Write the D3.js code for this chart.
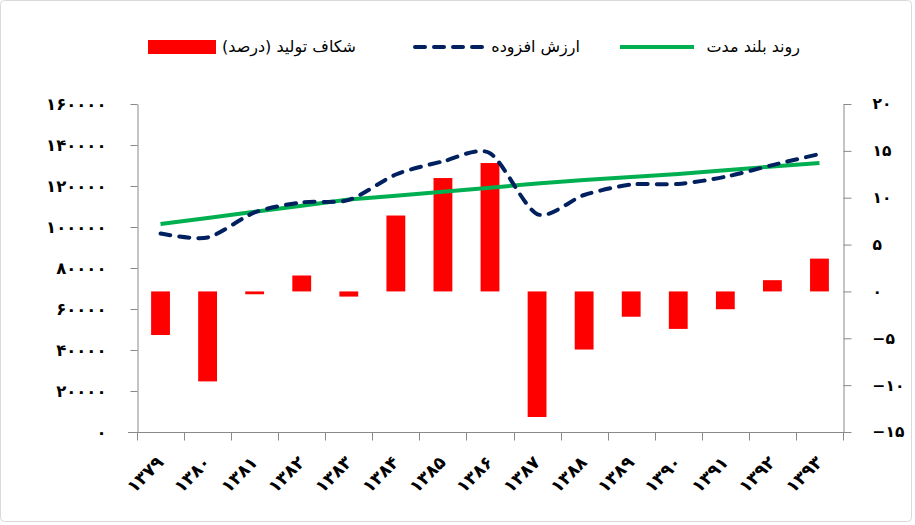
<!DOCTYPE html>
<html>
<head>
<meta charset="utf-8">
<script src="https://cdn.jsdelivr.net/npm/d3@7"></script>
<style>
  body { margin: 0; background: #fff; }
  text { font-family: "DejaVu Sans", sans-serif; fill: #000; }
  .axis path, .axis line { stroke: #898989; }
</style>
</head>
<body>
<div id="chart"></div>
<script>
// chart data
var years = ["۱۳۷۹", "۱۳۸۰", "۱۳۸۱", "۱۳۸۲", "۱۳۸۳", "۱۳۸۴", "۱۳۸۵", "۱۳۸۶",
  "۱۳۸۷", "۱۳۸۸", "۱۳۸۹", "۱۳۹۰", "۱۳۹۱", "۱۳۹۲", "۱۳۹۳"];
// output gap (percent), right axis
var outputGap = [-4.65, -9.6, -0.3, 1.7, -0.55, 8.1, 12.1, 13.7, -13.4, -6.2, -2.7, -4.0, -1.9, 1.2, 3.5];
// value added, left axis
var valueAdded = [96800, 94900, 107100, 112000, 113200, 125600, 132000, 136000,
  106300, 115600, 120700, 121000, 124500, 130200, 135600];
// long term trend, left axis
var trend = [101500, 104400, 107400, 110400, 113400, 115200, 117200, 119200,
  121200, 122900, 124400, 125800, 127700, 129500, 131200];

var leftTicks = [0, 20000, 40000, 60000, 80000, 100000, 120000, 140000, 160000];
var rightTicks = [-15, -10, -5, 0, 5, 10, 15, 20];

var legendLabels = ["شکاف تولید (درصد)", "ارزش افزوده", "روند بلند مدت"];

// chart setup
var svgWidth = 915;
var svgHeight = 525;

var plot = { left: 137, right: 843, top: 104, bottom: 432 };

var colors = { gap: "#ff0000", value: "#002060", trend: "#00b050" };

function persian(n) {
  var s = String(Math.abs(n)).replace(/[0-9]/g, function(c) {
    return "۰۱۲۳۴۵۶۷۸۹"[+c];
  });
  return n < 0 ? "−" + s : s;
}

var svg = d3.select("#chart")
  .append("svg")
  .attr("width", svgWidth)
  .attr("height", svgHeight);

// chart border
svg.append("rect")
  .attr("x", 0.5)
  .attr("y", 0.5)
  .attr("width", svgWidth - 4)
  .attr("height", svgHeight - 4)
  .attr("rx", 4)
  .attr("fill", "none")
  .attr("stroke", "#d9d9d9");

// scales
var x = d3.scaleBand()
  .domain(years)
  .range([plot.left, plot.right])
  .padding(0);

var yLeft = d3.scaleLinear()
  .domain([0, 160000])
  .range([plot.bottom, plot.top]);

var yRight = d3.scaleLinear()
  .domain([-15, 20])
  .range([plot.bottom, plot.top]);

var bw = x.bandwidth();
var barW = bw * 0.4;

// bars for output gap
svg.append("g")
  .selectAll("rect")
  .data(outputGap)
  .enter()
  .append("rect")
  .attr("x", (d, i) => x(years[i]) + (bw - barW) / 2)
  .attr("y", d => yRight(Math.max(0, d)))
  .attr("width", barW)
  .attr("height", d => Math.abs(yRight(d) - yRight(0)))
  .attr("fill", colors.gap);

// left axis
svg.append("g")
  .attr("class", "axis")
  .attr("transform", `translate(${plot.left + 0.5}, 0)`)
  .call(d3.axisLeft(yLeft)
    .tickValues(leftTicks)
    .tickSize(7)
    .tickSizeOuter(0)
    .tickPadding(24)
    .tickFormat(persian))
  .call(g => g.selectAll("text").attr("font-size", 16.5).attr("font-weight", "bold"));

// right axis
svg.append("g")
  .attr("class", "axis")
  .attr("transform", `translate(${plot.right + 0.5}, 0)`)
  .call(d3.axisRight(yRight)
    .tickValues(rightTicks)
    .tickSize(8)
    .tickSizeOuter(0)
    .tickPadding(21)
    .tickFormat(persian))
  .call(g => g.selectAll("text").attr("font-size", 15.5).attr("font-weight", "bold"));

// bottom axis, ticks on category boundaries
var xAxis = svg.append("g")
  .attr("class", "axis")
  .attr("transform", `translate(0, ${plot.bottom + 0.5})`);

xAxis.append("line")
  .attr("x1", plot.left - 9)
  .attr("x2", plot.right + 8)
  .attr("y1", 0)
  .attr("y2", 0);

xAxis.selectAll(".tick")
  .data(years.map(d => x(d)).concat([plot.right]))
  .enter()
  .append("line")
  .attr("x1", d => Math.round(d) + 0.5)
  .attr("x2", d => Math.round(d) + 0.5)
  .attr("y1", 0)
  .attr("y2", 8);

xAxis.selectAll("text")
  .data(years)
  .enter()
  .append("text")
  .attr("transform", d => `translate(${x(d) + bw / 2 + 4}, 31) rotate(-45)`)
  .attr("text-anchor", "end")
  .attr("font-size", 17.5)
  .attr("font-weight", "bold")
  .text(d => d);

// lines
var cx = i => x(years[i]) + bw / 2;

var trendLine = d3.line()
  .x((d, i) => cx(i))
  .y(d => yLeft(d));

svg.append("path")
  .datum(trend)
  .attr("d", trendLine)
  .attr("fill", "none")
  .attr("stroke", colors.trend)
  .attr("stroke-width", 4);

var valueLine = d3.line()
  .x((d, i) => cx(i))
  .y(d => yLeft(d))
  .curve(d3.curveCardinal.tension(0.2));

svg.append("path")
  .datum(valueAdded)
  .attr("d", valueLine)
  .attr("fill", "none")
  .attr("stroke", colors.value)
  .attr("stroke-width", 4)
  .attr("stroke-linecap", "round")
  .attr("stroke-dasharray", "10,9");

// legend (right to left)
var legend = svg.append("g").attr("transform", "translate(0, 47)");

legend.append("rect")
  .attr("x", 148)
  .attr("y", -7)
  .attr("width", 68)
  .attr("height", 14)
  .attr("fill", colors.gap);
legend.append("text")
  .attr("x", 356)
  .attr("y", 5)
  .attr("text-anchor", "end")
  .attr("font-size", 16)
  .text(legendLabels[0]);

legend.append("line")
  .attr("x1", 415)
  .attr("x2", 490)
  .attr("stroke", colors.value)
  .attr("stroke-width", 4)
  .attr("stroke-linecap", "round")
  .attr("stroke-dasharray", "10,9");
legend.append("text")
  .attr("x", 580)
  .attr("y", 5)
  .attr("text-anchor", "end")
  .attr("font-size", 16)
  .text(legendLabels[1]);

legend.append("line")
  .attr("x1", 620)
  .attr("x2", 694)
  .attr("stroke", colors.trend)
  .attr("stroke-width", 4);
legend.append("text")
  .attr("x", 800)
  .attr("y", 5)
  .attr("text-anchor", "end")
  .attr("font-size", 16)
  .text(legendLabels[2]);
</script>
</body>
</html>
